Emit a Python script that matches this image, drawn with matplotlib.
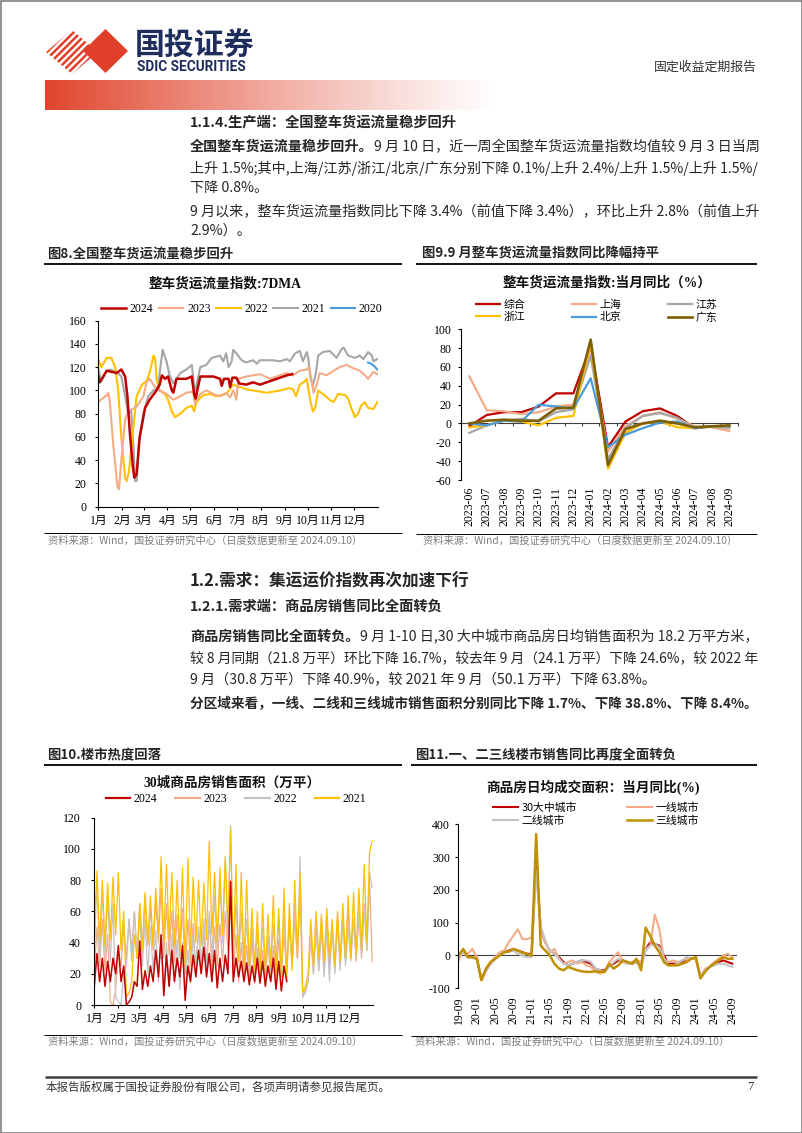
import numpy as np
import matplotlib
matplotlib.use("Agg")
import matplotlib.pyplot as plt
from matplotlib.patches import Polygon, Rectangle
from matplotlib.lines import Line2D

# ======================= DATA =======================
# 图8 整车货运流量指数:7DMA  (day of year -> index)
days_2024 = [0, 2, 11, 24, 30, 35, 38, 41, 45, 47, 50, 54, 61, 67, 76, 80, 83, 87, 91, 96, 98, 102, 115, 122, 125,
             127, 133, 150, 159, 161, 164, 170, 172, 175, 180, 184, 193, 202, 211, 224, 233, 246, 253]
truck_2024 = [112, 107, 117, 115, 118, 112, 95, 65, 35, 25, 28, 60, 85, 92, 100, 105, 113, 110, 112, 100, 98, 110, 110,
              112, 97, 93, 112, 112, 110, 104, 110, 110, 103, 111, 111, 106, 105, 107, 105, 108, 110, 113, 114]
days_2023 = [0, 11, 13, 15, 20, 25, 27, 30, 35, 39, 50, 59, 63, 67, 74, 80, 89, 98, 107, 115, 124, 126, 128, 133, 141,
             150, 159, 167, 172, 176, 178, 180, 183, 193, 211, 224, 237, 246, 254, 263, 272, 275, 278, 281, 285, 289,
             298, 307, 315, 324, 333, 341, 348, 352, 359, 364]
truck_2023 = [90, 96, 98, 90, 50, 17, 15, 40, 75, 82, 86, 95, 107, 110, 103, 100, 97, 92, 95, 98, 99, 88, 92, 97, 100,
              97, 95, 98, 94, 100, 97, 92, 110, 112, 114, 110, 113, 115, 113, 117, 118, 120, 110, 98, 105, 115, 113,
              117, 120, 122, 119, 117, 113, 110, 116, 114]
days_2022 = [0, 4, 11, 17, 22, 26, 30, 35, 37, 40, 46, 50, 57, 63, 67, 72, 74, 76, 80, 87, 91, 96, 100, 107, 115, 122,
             125, 128, 137, 146, 154, 167, 176, 185, 193, 202, 220, 237, 250, 254, 258, 263, 270, 272, 277, 280, 283,
             287, 293, 302, 307, 313, 322, 326, 330, 335, 339, 343, 348, 352, 359, 364]
truck_2022 = [127, 120, 128, 128, 120, 100, 60, 25, 22, 30, 70, 95, 105, 108, 115, 130, 128, 110, 100, 97, 92, 82, 77,
              80, 85, 87, 82, 90, 96, 97, 95, 97, 105, 103, 101, 100, 98, 100, 102, 101, 95, 105, 108, 110, 90, 82, 85,
              100, 97, 92, 90, 97, 96, 93, 85, 77, 80, 87, 90, 85, 84, 90]
days_2021 = [0, 4, 9, 15, 24, 30, 35, 39, 43, 46, 48, 50, 53, 59, 65, 72, 78, 80, 84, 89, 93, 98, 102, 107, 115, 122,
             126, 133, 141, 148, 159, 163, 167, 170, 174, 176, 180, 187, 193, 202, 207, 211, 228, 237, 246, 250, 257,
             263, 267, 272, 274, 277, 280, 284, 287, 293, 302, 311, 317, 320, 326, 335, 341, 346, 352, 357, 359, 364]
truck_2021 = [118, 108, 115, 118, 116, 112, 95, 80, 82, 50, 22, 22, 55, 80, 95, 100, 103, 115, 135, 125, 113, 106, 110,
              115, 118, 122, 98, 120, 122, 128, 130, 125, 132, 120, 125, 135, 132, 126, 124, 126, 123, 126, 126, 125,
              127, 125, 132, 134, 125, 133, 128, 110, 104, 115, 130, 133, 134, 128, 135, 137, 130, 128, 130, 127, 133,
              130, 125, 127]
days_2020 = [352, 356, 360, 364]
truck_2020 = [124, 123, 121, 118]
month_starts = [0, 31, 59, 90, 120, 151, 181, 212, 243, 273, 304, 334]
month_names = ['1月', '2月', '3月', '4月', '5月', '6月', '7月', '8月', '9月', '10月', '11月', '12月']

# 图9 整车货运流量指数:当月同比(%)
months9 = ['2023-06', '2023-07', '2023-08', '2023-09', '2023-10', '2023-11', '2023-12', '2024-01',
           '2024-02', '2024-03', '2024-04', '2024-05', '2024-06', '2024-07', '2024-08', '2024-09']
yoy_total = [-3, 9, 12, 12, 18, 32, 32, 82, -25, 2, 13, 16, 8, -5, -3, -3]
yoy_shanghai = [50, 14, 13, 10, 12, 18, 20, 75, -30, -3, 8, 12, 5, -3, -4, -8]
yoy_jiangsu = [-10, -2, 3, 5, 2, 12, 15, 72, -38, -5, 8, 11, 6, -5, -3, -5]
yoy_zhejiang = [-4, -2, 3, 2, -2, 6, 8, 85, -48, -10, 0, 2, -4, -5, -3, -3]
yoy_beijing = [0, -2, 3, 2, 20, 18, 16, 48, -25, -12, -5, 1, 2, -5, -3, -3]
yoy_guangdong = [0, 3, 4, 3, 3, 16, 17, 89, -44, -6, 0, 3, 0, -4, -3, -2]

# 图10 30城商品房销售面积(万平), sampled twice a week
sales_2021 = [45, 86, 40, 80, 38, 78, 42, 82, 45, 85, 35, 60, 5, 8, 15, 45, 30, 65, 35, 72, 40, 70, 38, 75, 45, 95,
              40, 90, 42, 85, 38, 80, 35, 88, 25, 94, 35, 82, 40, 80, 38, 78, 42, 105, 45, 85, 40, 88, 45, 95, 50, 113,
              30, 90, 28, 85, 25, 80, 25, 62, 22, 60, 20, 65, 22, 58, 25, 70, 20, 62, 18, 75, 15, 65, 22, 80, 30, 85,
              8, 12, 20, 55, 25, 60, 30, 58, 28, 62, 30, 55, 25, 60, 28, 65, 30, 70, 30, 72, 32, 75, 35, 90, 40, 98, 105]
sales_2022 = [35, 80, 30, 75, 32, 70, 28, 65, 5, 2, 0, 20, 25, 55, 28, 60, 30, 58, 25, 55, 20, 50, 22, 48, 15, 45,
              6, 40, 12, 45, 15, 42, 10, 40, 8, 35, 15, 45, 20, 50, 22, 55, 25, 60, 30, 70, 35, 80, 40, 93, 45, 115,
              30, 65, 28, 60, 25, 55, 22, 50, 20, 48, 18, 50, 20, 45, 22, 52, 25, 55, 20, 60, 22, 58, 25, 65, 30, 95,
              5, 8, 15, 45, 20, 50, 22, 55, 18, 48, 15, 50, 20, 52, 22, 55, 25, 50, 28, 55, 30, 58, 32, 62, 35, 85, 75]
sales_2023 = [20, 50, 25, 55, 22, 45, 2, 0, 10, 35, 25, 50, 30, 55, 35, 60, 30, 65, 35, 70, 38, 62, 35, 68, 40, 75,
              30, 65, 32, 60, 28, 58, 30, 62, 20, 55, 25, 52, 22, 50, 25, 48, 20, 55, 22, 50, 25, 52, 28, 60, 35, 80,
              20, 45, 15, 40, 18, 38, 15, 42, 14, 36, 15, 35, 16, 40, 15, 38, 18, 42, 20, 45, 22, 50, 25, 55, 30, 70,
              5, 10, 15, 45, 20, 50, 22, 48, 20, 55, 25, 50, 22, 58, 25, 55, 28, 60, 30, 55, 28, 62, 30, 65, 35, 80, 28]
sales_2024 = [12, 33, 15, 30, 12, 28, 15, 30, 20, 38, 15, 25, 0, 2, 5, 15, 12, 41, 10, 22, 12, 25, 15, 35, 18, 45,
              6, 32, 12, 35, 15, 30, 18, 38, 3, 25, 15, 32, 18, 35, 20, 37, 18, 33, 15, 35, 11, 30, 15, 32, 20, 79,
              15, 30, 18, 28, 15, 27, 13, 25, 15, 30, 14, 28, 12, 25, 15, 30, 10, 28, 9, 25, 15]

# 图11 商品房日均成交面积:当月同比(%), 2019-09 .. 2024-09
month11_labels = ['19-09', '20-01', '20-05', '20-09', '21-01', '21-05', '21-09', '22-01', '22-05', '22-09',
                  '23-01', '23-05', '23-09', '24-01', '24-05', '24-09']
yoy_30city = [-5, 15, -5, -5, -10, -75, -45, -25, -10, 5, 10, 15, 20, 15, 10, 5, 5, 290, 80, 40, 15, 5, -5, -20,
              -30, -25, -20, -15, -20, -25, -40, -45, -45, -30, -25, -15, -15, -20, -25, -20, -30, 20, 40, 35, 30,
              0, -25, -25, -25, -20, -10, -10, -10, -65, -45, -35, -25, -20, -15, -20, -25]
yoy_tier1 = [-15, 15, 5, 20, -5, -70, -40, -20, -5, 10, 15, 40, 60, 80, 50, 50, 55, 260, 80, 40, 10, 20, -10, -25,
             -20, -15, -25, -20, -30, -35, -50, -55, -50, -20, -5, 10, -20, -25, -20, -15, -20, 20, 30, 125, 80,
             -10, -20, -15, -20, -15, -10, -10, -5, -65, -40, -35, -20, -10, 0, 5, -5]
yoy_tier2 = [-10, 10, -5, -5, -10, -72, -45, -25, -10, 5, 10, 12, 15, 5, 0, -5, -5, 260, 90, 45, 15, 5, -10, -25,
             -30, -25, -20, -15, -15, -20, -40, -45, -50, -35, -20, -10, -20, -25, -25, -20, -30, 15, 30, 35, 25,
             -10, -30, -30, -25, -15, -5, -10, -10, -65, -45, -35, -30, -25, -25, -30, -35]
yoy_tier3 = [0, 20, -5, -5, -10, -75, -40, -20, -10, 0, 10, 12, 20, 15, 8, 5, 0, 370, 30, 15, 0, -25, -40, -45,
             -35, -40, -45, -48, -50, -50, -48, -50, -50, -25, -40, -30, -15, -20, -25, -10, -45, 85, 60, 30, 10,
             -20, -30, -30, -30, -25, -20, -10, -5, -70, -50, -35, -25, -15, -5, -10, -10]

# ======================= STYLE =======================
W, H = 802, 1133
CJK = ['Noto Sans CJK SC', 'DejaVu Sans']
SERIF = ['Liberation Serif', 'Noto Sans CJK SC', 'DejaVu Sans']
plt.rcParams['font.family'] = CJK
plt.rcParams['axes.unicode_minus'] = False

RED = '#C00000'
SALMON = '#F4AC88'
YELLOW = '#FFC000'
GRAY = '#A6A6A6'
LGRAY = '#C4C4C4'
BLUE = '#4A9BDC'
OLIVE = '#7F6000'
GOLD = '#BF9000'
TXT = '#262626'

fig = plt.figure(figsize=(W / 100, H / 100), dpi=100)
fig.patch.set_facecolor('white')
bg = fig.add_axes([0, 0, 1, 1])
bg.axis('off')
renderer = fig.canvas.get_renderer()


def rect(x0, x1, ytop, ybot):
    return [x0 / W, 1 - ybot / H, (x1 - x0) / W, (ybot - ytop) / H]


def fxy(px, py):
    return (px / W, 1 - py / H)


def put(x, y, parts, size, maxw=None, color=TXT, family=CJK):
    objs = []
    cx = x
    for s, b in parts:
        t = bg.text(cx, y, s, fontsize=size, fontweight='bold' if b else 'normal', color=color,
                    ha='left', va='center', family=family)
        w = t.get_window_extent(renderer=renderer).width
        objs.append(t)
        cx += w
    total = cx - x
    if maxw is not None and total > maxw:
        for t in objs:
            t.remove()
        return put(x, y, parts, size * maxw / total, None, color, family)
    return total


def style(ax, ypad=5, xpad=3.5):
    for s in ['top', 'right']:
        ax.spines[s].set_visible(False)
    for s in ['left', 'bottom']:
        ax.spines[s].set_color('#000000')
        ax.spines[s].set_linewidth(0.8)
    ax.tick_params(direction='out', length=2.5, width=0.8, colors='#000000')
    ax.tick_params(axis='y', pad=ypad)
    ax.tick_params(axis='x', pad=xpad)
    ax.set_facecolor('none')


def hline(x0, x1, y, lw, color='#000000'):
    bg.plot([x0, x1], [y, y], color=color, lw=lw, solid_capstyle='butt')


# ======================= PAGE HEADER =======================
bg.add_patch(Rectangle((0.5, 0.5), W - 1, H - 1, fill=False, ec='#808080', lw=1.2))
# logo
clip = Polygon([(46, 52), (72, 30), (98, 52), (72, 74)], closed=True, fc='none', ec='none')
bg.add_patch(clip)
for k in range(9):
    x0 = 40 + k * 7
    ln, = bg.plot([x0 - 30, x0 + 30], [52 + 30, 52 - 30], color='#E0402A', lw=1.8, solid_capstyle='butt')
    ln.set_clip_path(clip)
bg.add_patch(Polygon([(83, 51), (105.5, 29), (128, 51), (105.5, 73)], closed=True, fc='#E0402A', ec='none'))
bg.text(135, 46, '国投证券', fontsize=21.5, fontweight='bold', color='#1F2D5C', ha='left', va='center', family=CJK)
bg.text(137, 67, 'SDIC SECURITIES', fontsize=9.8, fontweight='bold', color='#1F2D5C', ha='left', va='center',
        family=['Roboto', 'DejaVu Sans'])
bg.text(757, 67, '固定收益定期报告', fontsize=9.3, color='#333333', ha='right', va='center', family=CJK)
# gradient bar
g = np.linspace(0, 1, 500)
rgba = np.zeros((1, 500, 4))
rgba[..., 0] = 0.88
rgba[..., 1] = 0.27
rgba[..., 2] = 0.17
rgba[..., 3] = (1 - g) ** 1.15
bg.imshow(rgba, extent=[45, 500, 110, 80], aspect='auto', interpolation='bilinear')

# ======================= BODY TEXT =======================
LM, RM = 190, 757
MW = RM - LM
put(LM, 122, [('1.1.4.生产端：全国整车货运流量稳步回升', True)], 10.3)
put(LM, 147, [('全国整车货运流量稳步回升。', True),
              ('9 月 10 日，近一周全国整车货运流量指数均值较 9 月 3 日当周', False)], 10.2, MW)
put(LM, 168, [('上升 1.5%;其中,上海/江苏/浙江/北京/广东分别下降 0.1%/上升 2.4%/上升 1.5%/上升 1.5%/', False)], 10.2, MW)
put(LM, 188, [('下降 0.8%。', False)], 10.2)
put(LM, 212, [('9 月以来，整车货运流量指数同比下降 3.4%（前值下降 3.4%），环比上升 2.8%（前值上升', False)], 10.2, MW)
put(LM, 231, [('2.9%）。', False)], 10.2)

put(LM, 581, [('1.2.需求：集运运价指数再次加速下行', True)], 12)
put(LM, 607, [('1.2.1.需求端：商品房销售同比全面转负', True)], 10.3)
put(LM, 637, [('商品房销售同比全面转负。', True),
              ('9 月 1-10 日,30 大中城市商品房日均销售面积为 18.2 万平方米，', False)], 10.2, MW)
put(LM, 658, [('较 8 月同期（21.8 万平）环比下降 16.7%，较去年 9 月（24.1 万平）下降 24.6%，较 2022 年', False)], 10.2, MW)
put(LM, 679, [('9 月（30.8 万平）下降 40.9%，较 2021 年 9 月（50.1 万平）下降 63.8%。', False)], 10.2, MW)
put(LM, 704, [('分区域来看，一线、二线和三线城市销售面积分别同比下降 1.7%、下降 38.8%、下降 8.4%。', True)], 10.2, MW)

# figure titles / rules / sources
SRC = '资料来源：Wind，国投证券研究中心（日度数据更新至 2024.09.10）'
put(47, 254, [('图8.全国整车货运流量稳步回升', True)], 9.6)
put(422, 254, [('图9.9 月整车货运流量指数同比降幅持平', True)], 9.6)
hline(44, 402, 264, 1.3)
hline(416, 757, 264, 1.3)
hline(44, 402, 533, 0.7)
hline(416, 757, 534, 0.7)
put(48, 541, [(SRC, False)], 7.4, color='#7F7F7F')
put(423, 541, [(SRC, False)], 7.4, color='#7F7F7F')

put(47, 755, [('图10.楼市热度回落', True)], 9.6)
put(415, 755, [('图11.一、二三线楼市销售同比再度全面转负', True)], 9.6)
hline(44, 402, 765, 1.3)
hline(411, 757, 765, 1.3)
hline(44, 402, 1035, 0.7)
hline(411, 757, 1036, 0.7)
put(48, 1042, [(SRC, False)], 7.4, color='#7F7F7F')
put(415, 1042, [(SRC, False)], 7.4, color='#7F7F7F')

# footer
hline(45, 757, 1077, 1.8, '#404040')
put(46, 1087, [('本报告版权属于国投证券股份有限公司，各项声明请参见报告尾页。', False)], 8.3, color='#333333')
bg.text(753, 1087, '7', fontsize=9, color='#333333', ha='right', va='center', family=SERIF)

bg.set_xlim(0, W)
bg.set_ylim(H, 0)

# ======================= CHART 8 =======================
ax8 = fig.add_axes(rect(98.3, 378, 320.7, 506.7))
style(ax8, ypad=6)
l20, = ax8.plot(days_2020, truck_2020, color=BLUE, lw=1.5)
l21, = ax8.plot(days_2021, truck_2021, color=GRAY, lw=1.5)
l22, = ax8.plot(days_2022, truck_2022, color=YELLOW, lw=1.5)
l23, = ax8.plot(days_2023, truck_2023, color=SALMON, lw=1.5)
l24, = ax8.plot(days_2024, truck_2024, color=RED, lw=1.8)
ax8.set_xlim(0, 365)
ax8.set_ylim(0, 160)
ax8.set_xticks(month_starts)
ax8.set_xticklabels(month_names, fontsize=8.5, family=SERIF)
ax8.set_yticks(range(0, 161, 20))
ax8.set_yticklabels([str(v) for v in range(0, 161, 20)], fontsize=8.5, family=SERIF)
ax8.legend([l24, l23, l22, l21, l20], ['2024', '2023', '2022', '2021', '2020'], loc='center',
           bbox_to_anchor=fxy(242, 309), bbox_transform=fig.transFigure, ncol=5, frameon=False,
           handlelength=2.1, handletextpad=0.3, columnspacing=0.45, borderpad=0, borderaxespad=0,
           prop={'family': SERIF, 'size': 8.5})
fig.text(*fxy(225, 284), '整车货运流量指数:7DMA', fontsize=9.8, fontweight='bold', ha='center', va='center',
         family=SERIF, color='#111111')

# ======================= CHART 9 =======================
ax9 = fig.add_axes(rect(460.7, 738, 329.3, 480))
style(ax9, ypad=4)
x9 = np.arange(len(months9))
series9 = [('综合', yoy_total, RED, 1.6), ('上海', yoy_shanghai, SALMON, 1.6), ('江苏', yoy_jiangsu, GRAY, 1.6),
           ('浙江', yoy_zhejiang, YELLOW, 1.6), ('北京', yoy_beijing, BLUE, 1.6), ('广东', yoy_guangdong, OLIVE, 1.9)]
h9 = {}
for name, vals, c, lw in series9:
    h9[name], = ax9.plot(x9, vals, color=c, lw=lw)
ax9.set_xlim(-0.5, len(months9) - 0.5)
ax9.set_ylim(-60, 100)
ax9.spines['bottom'].set_visible(False)
ax9.set_xticks(x9)
ax9.set_xticklabels(months9, rotation=90, fontsize=8.5, family=SERIF)
ax9.tick_params(axis='x', length=0, pad=5)
ax9.set_yticks(range(-60, 101, 20))
ax9.set_yticklabels([str(v) for v in range(-60, 101, 20)], fontsize=8.5, family=SERIF)
sec9 = ax9.secondary_xaxis(60 / 160)
sec9.set_xticks(np.arange(-0.5, len(months9), 1.0))
sec9.tick_params(axis='x', length=2.5, width=0.8, direction='out', labelbottom=False, labeltop=False,
                 colors='#404040')
for s in sec9.spines.values():
    s.set_color('#404040')
    s.set_linewidth(0.8)
order9 = ['综合', '浙江', '上海', '北京', '江苏', '广东']
ax9.legend([h9[k] for k in order9], order9, loc='center', bbox_to_anchor=fxy(597, 311),
           bbox_transform=fig.transFigure, ncol=3, frameon=False, handlelength=2.2, handletextpad=0.35,
           columnspacing=4.3, labelspacing=0.25, borderpad=0, borderaxespad=0, prop={'family': CJK, 'size': 7.8})
fig.text(*fxy(607, 283), '整车货运流量指数:当月同比（%）', fontsize=9.8, fontweight='bold', ha='center',
         va='center', family=SERIF, color='#111111')

# ======================= CHART 10 =======================
ax10 = fig.add_axes(rect(94.3, 373, 817.7, 1005))
style(ax10, ypad=7)
d_full = np.arange(0, 365, 3.5)
d_2024 = np.arange(0, 253, 3.5)
m23, = ax10.plot(d_full, sales_2023, color=SALMON, lw=0.9)
m22, = ax10.plot(d_full, sales_2022, color=LGRAY, lw=0.9)
m21, = ax10.plot(d_full, sales_2021, color=YELLOW, lw=0.9)
m24, = ax10.plot(d_2024, sales_2024, color=RED, lw=1.1)
ax10.set_xlim(0, 365)
ax10.set_ylim(0, 120)
ax10.set_xticks(month_starts)
ax10.set_xticklabels(month_names, fontsize=8.5, family=SERIF)
ax10.set_yticks(range(0, 121, 20))
ax10.set_yticklabels([str(v) for v in range(0, 121, 20)], fontsize=8.5, family=SERIF)
ax10.legend([Line2D([], [], color=RED, lw=1.6), Line2D([], [], color=SALMON, lw=1.6),
             Line2D([], [], color=LGRAY, lw=1.6), Line2D([], [], color=YELLOW, lw=1.6)],
            ['2024', '2023', '2022', '2021'], loc='center', bbox_to_anchor=fxy(236, 799),
            bbox_transform=fig.transFigure, ncol=4, frameon=False, handlelength=2.1, handletextpad=0.3,
            columnspacing=1.5, borderpad=0, borderaxespad=0, prop={'family': SERIF, 'size': 8.5})
fig.text(*fxy(232, 783), '30城商品房销售面积（万平）', fontsize=9.8, fontweight='bold', ha='center', va='center',
         family=SERIF, color='#111111')

# ======================= CHART 11 =======================
ax11 = fig.add_axes(rect(457.7, 736, 824.3, 988.3))
style(ax11, ypad=3)
x11 = np.arange(len(yoy_30city))
k1, = ax11.plot(x11, yoy_30city, color=RED, lw=1.5)
k2, = ax11.plot(x11, yoy_tier1, color=SALMON, lw=1.5)
k3, = ax11.plot(x11, yoy_tier2, color=LGRAY, lw=1.5)
k4, = ax11.plot(x11, yoy_tier3, color=GOLD, lw=1.8)
ax11.set_xlim(-0.2, 60.8)
ax11.set_ylim(-100, 400)
ax11.spines['bottom'].set_visible(False)
ax11.set_xticks(np.arange(0, len(yoy_30city), 4))
ax11.set_xticklabels(month11_labels, rotation=90, fontsize=8.5, family=SERIF)
ax11.tick_params(axis='x', length=0, pad=6)
ax11.set_yticks(range(-100, 401, 100))
ax11.set_yticklabels([str(v) for v in range(-100, 401, 100)], fontsize=8.5, family=SERIF)
sec11 = ax11.secondary_xaxis(100 / 500)
sec11.set_xticks([])
for s in sec11.spines.values():
    s.set_color('#404040')
    s.set_linewidth(0.8)
ax11.legend([k1, k3, k2, k4], ['30大中城市', '二线城市', '一线城市', '三线城市'], loc='center',
            bbox_to_anchor=fxy(596, 814), bbox_transform=fig.transFigure, ncol=2, frameon=False,
            handlelength=2.3, handletextpad=0.3, columnspacing=4.6, labelspacing=0.25, borderpad=0,
            borderaxespad=0, prop={'family': CJK, 'size': 7.8})
fig.text(*fxy(593, 787), '商品房日均成交面积：当月同比(%)', fontsize=9.8, fontweight='bold', ha='center',
         va='center', family=SERIF, color='#111111')

fig.savefig('out.png', dpi=100)
